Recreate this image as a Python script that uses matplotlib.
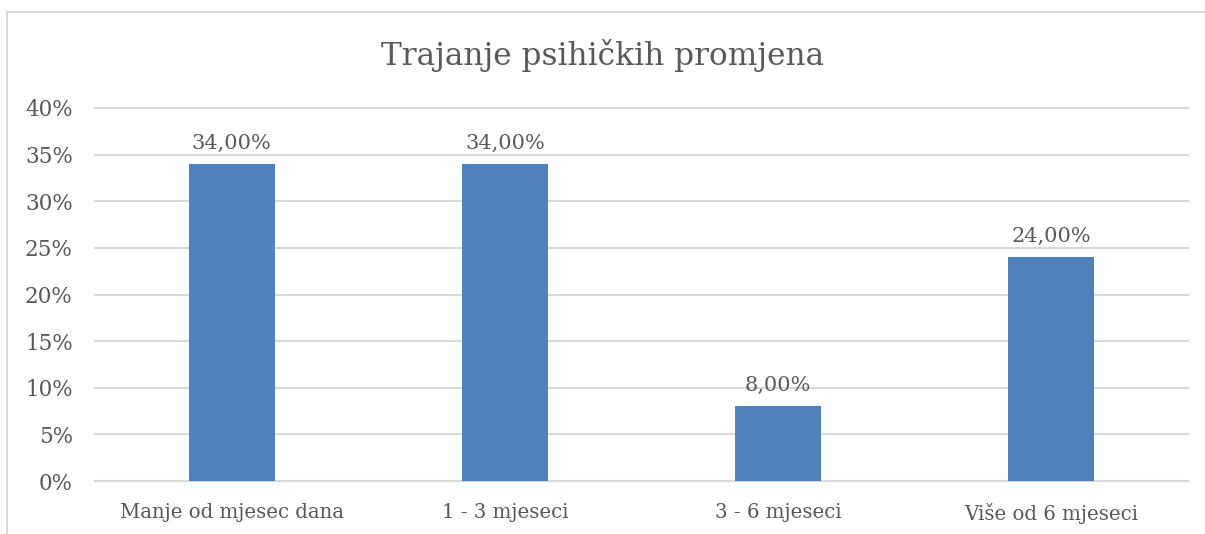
import matplotlib.pyplot as plt
from matplotlib.patches import Rectangle
from matplotlib.ticker import FuncFormatter

categories = ["Manje od mjesec dana", "1 - 3 mjeseci", "3 - 6 mjeseci", "Više od 6 mjeseci"]
values = [34.0, 34.0, 8.0, 24.0]
bar_labels = ["34,00%", "34,00%", "8,00%", "24,00%"]

text_col = "#595959"
grid_col = "#D9D9D9"
bar_col = "#4F81BD"
font = "DejaVu Serif"

fig = plt.figure(figsize=(12.05, 5.34), dpi=100)
ax = fig.add_axes([95 / 1205, 1 - 481 / 534, (1188 - 95) / 1205, (481 - 108) / 534])

# chart frame (cut off at right and bottom)
fig.patches.append(Rectangle((7 / 1205, -0.1), 1.2, (534 - 12) / 534 + 0.1,
                             transform=fig.transFigure, fill=False,
                             edgecolor=grid_col, linewidth=1.5))

x = range(len(categories))
bars = ax.bar(x, values, width=0.315, color=bar_col, zorder=3)
for b, lab in zip(bars, bar_labels):
    ax.text(b.get_x() + b.get_width() / 2, b.get_height() + 1.2, lab,
            ha="center", va="bottom", fontsize=15, color=text_col, family=font)

ax.set_xlim(-0.5, len(categories) - 0.5)
ax.set_ylim(0, 40)
ax.set_yticks(range(0, 41, 5))
ax.yaxis.set_major_formatter(FuncFormatter(lambda v, p: f"{int(v)}%"))
ax.set_xticks(list(x))
ax.set_xticklabels(categories)
for lab in ax.get_yticklabels():
    lab.set_family(font)
    lab.set_fontsize(15.5)
    lab.set_color(text_col)
for lab in ax.get_xticklabels():
    lab.set_family(font)
    lab.set_fontsize(14.2)
    lab.set_color(text_col)
ax.tick_params(length=0)
ax.tick_params(axis="y", pad=16)
ax.tick_params(axis="x", pad=16)
ax.grid(axis="y", color=grid_col, linewidth=1.5, zorder=0)
for gl in ax.get_ygridlines():
    gl.set_clip_on(False)
for s in ["top", "right", "left"]:
    ax.spines[s].set_visible(False)
ax.spines["bottom"].set_color(grid_col)
ax.spines["bottom"].set_linewidth(1.5)

fig.text(0.5, 1 - 55 / 534, "Trajanje psihičkih promjena", ha="center", va="center",
         fontsize=22.5, color=text_col, family=font)

fig.savefig("out.png", dpi=100)
